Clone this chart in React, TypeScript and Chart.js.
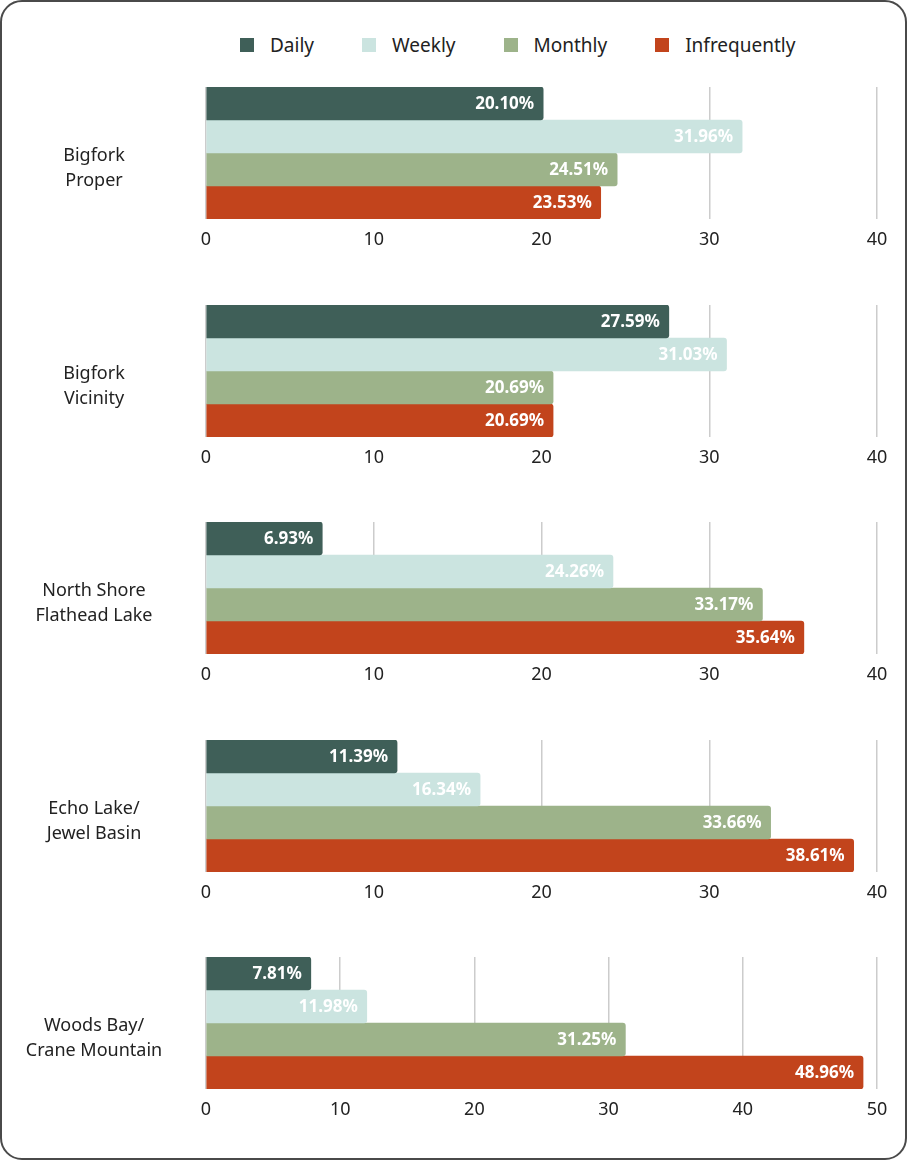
import React, { useEffect, useRef } from "react";
import { Chart, registerables } from "chart.js";

Chart.register(...registerables);

const categories: string[][] = [
  ["Bigfork", "Proper"],
  ["Bigfork", "Vicinity"],
  ["North Shore", "Flathead Lake"],
  ["Echo Lake/", "Jewel Basin"],
  ["Woods Bay/", "Crane Mountain"],
];
const seriesNames = ["Daily", "Weekly", "Monthly", "Infrequently"];
const seriesColors = ["#3f5f58", "#cbe4e0", "#9db38a", "#c2441c"];
const dailyValues = [20.1, 27.59, 6.93, 11.39, 7.81];
const weeklyValues = [31.96, 31.03, 24.26, 16.34, 11.98];
const monthlyValues = [24.51, 20.69, 33.17, 33.66, 31.25];
const infrequentValues = [23.53, 20.69, 35.64, 38.61, 48.96];
const axisMax = [40, 40, 40, 40, 50];
const tickStep = 10;

const FONT = '"Noto Sans", "Open Sans", sans-serif';

const valueLabels = {
  id: "valueLabels",
  afterDatasetsDraw(chart: any) {
    const ctx = chart.ctx;
    ctx.save();
    ctx.font = `bold 17px ${FONT}`;
    ctx.fillStyle = "#ffffff";
    ctx.textAlign = "right";
    ctx.textBaseline = "middle";
    chart.data.datasets.forEach((ds: any, i: number) => {
      const meta = chart.getDatasetMeta(i);
      meta.data.forEach((el: any, j: number) => {
        const v = ds.data[j] as number;
        ctx.fillText(v.toFixed(2) + "%", el.x - 9, el.y + 1);
      });
    });
    ctx.restore();
  },
};

const categoryLabel = {
  id: "categoryLabel",
  afterDraw(chart: any) {
    const ctx = chart.ctx;
    const y = chart.scales.y;
    const lines = chart.data.labels[0] as string[];
    const cy = y.getPixelForValue(0) + 15;
    const lh = 25;
    ctx.save();
    ctx.font = `18px ${FONT}`;
    ctx.fillStyle = "#222222";
    ctx.textAlign = "center";
    ctx.textBaseline = "middle";
    lines.forEach((ln, k) => {
      ctx.fillText(ln, 94, cy + (k - (lines.length - 1) / 2) * lh);
    });
    ctx.restore();
  },
};

function Panel({ index, top }: { index: number; top: number }) {
  const ref = useRef<HTMLCanvasElement | null>(null);
  useEffect(() => {
    if (!ref.current) return;
    const values = [dailyValues, weeklyValues, monthlyValues, infrequentValues];
    const chart = new Chart(ref.current, {
      type: "bar",
      data: {
        labels: [categories[index]],
        datasets: seriesNames.map((name, s) => ({
          label: name,
          data: [values[s][index]],
          backgroundColor: seriesColors[s],
          borderWidth: 0,
          borderRadius: 3,
          categoryPercentage: 1,
          barPercentage: 1,
        })),
      },
      options: {
        indexAxis: "y",
        responsive: false,
        animation: false,
        devicePixelRatio: 1,
        layout: { padding: { top: 10, right: 30, left: 0, bottom: 0 } },
        plugins: { legend: { display: false }, tooltip: { enabled: false } },
        scales: {
          y: {
            type: "category",
            ticks: { display: false },
            grid: { display: false },
            border: { display: false },
            afterFit: (s: any) => {
              s.width = 206;
            },
          },
          x: {
            type: "linear",
            min: 0,
            max: axisMax[index],
            ticks: {
              stepSize: tickStep,
              color: "#222222",
              padding: 10,
              font: { family: FONT, size: 18 },
            },
            grid: { color: "#cccccc", lineWidth: 1.5, drawTicks: false },
            border: { display: false },
            afterFit: (s: any) => {
              s.height = 58;
            },
          },
        },
      },
      plugins: [valueLabels, categoryLabel],
    } as any);
    return () => chart.destroy();
  }, [index]);
  return (
    <canvas
      ref={ref}
      width={907}
      height={200}
      style={{ position: "absolute", left: 0, top, width: 907, height: 200 }}
    />
  );
}

export default function App() {
  return (
    <div
      style={{
        position: "absolute",
        left: 0,
        top: 0,
        width: 907,
        height: 1160,
        background: "#ffffff",
        overflow: "hidden",
      }}
    >
      <div
        style={{
          position: "absolute",
          left: 0,
          top: 0,
          width: 907,
          height: 1160,
          boxSizing: "border-box",
          border: "2px solid #4a4a4a",
          borderRadius: 22,
        }}
      />
      <div
        style={{
          position: "absolute",
          left: 240,
          top: 34,
          display: "flex",
          gap: 48,
          fontFamily: FONT,
          fontSize: 19,
          lineHeight: "22px",
          color: "#222222",
        }}
      >
        {seriesNames.map((n, i) => (
          <div key={n} style={{ display: "flex", alignItems: "center" }}>
            <span
              style={{
                display: "inline-block",
                width: 14,
                height: 14,
                background: seriesColors[i],
                marginRight: 16,
              }}
            />
            <span>{n}</span>
          </div>
        ))}
      </div>
      {categories.map((c, i) => (
        <Panel key={i} index={i} top={77 + Math.round(i * 217.5)} />
      ))}
    </div>
  );
}
